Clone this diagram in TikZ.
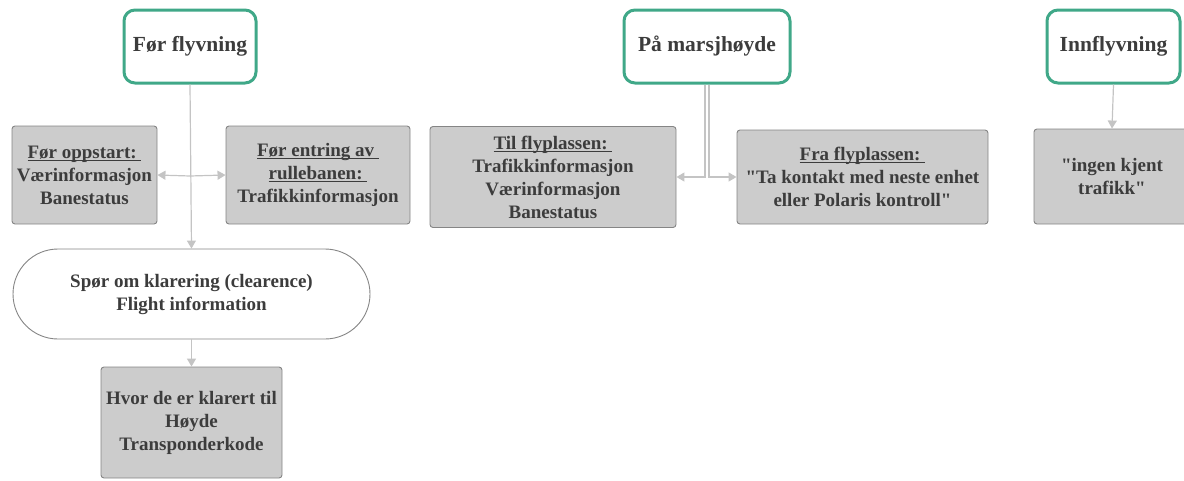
\documentclass[tikz,border=0pt]{standalone}
\usepackage{fontspec}
\setmainfont{Liberation Serif}[Ligatures=TeXOff, BoldFont={Liberation Serif Bold}]
\usetikzlibrary{arrows.meta,shapes.misc}
\definecolor{phase}{HTML}{40A888}
\definecolor{txt}{HTML}{3C3C3C}
\definecolor{boxfill}{HTML}{CCCCCC}
\definecolor{boxline}{HTML}{858585}
\definecolor{link}{HTML}{C4C4C4}
% underline sitting just under the baseline
\newcommand\ulx[1]{\setbox0\hbox{#1}\rlap{\rule[-2.4pt]{\wd0}{0.9pt}}\box0}
\tikzset{
  phasebox/.style={draw=phase, line width=3pt, rounded corners=11pt, fill=white,
    text=txt, font=\fontsize{21.5}{26}\selectfont\bfseries, inner sep=0pt},
  infobox/.style={draw=boxline, line width=0.9pt, rounded corners=3pt, fill=boxfill,
    text=txt, font=\fontsize{19}{23}\selectfont\bfseries, align=center, inner sep=0pt},
  pillbox/.style={draw=boxline, line width=0.9pt, rounded rectangle, fill=white,
    text=txt, font=\fontsize{19}{23}\selectfont\bfseries, align=center, inner sep=0pt},
  arr/.style={draw=link, line width=1.2pt, -{Triangle[length=8pt,width=9pt]}}
}
\begin{document}
\begin{tikzpicture}[x=1pt,y=-1pt]
\useasboundingbox (0,0) rectangle (1184,480);

% phase headers
\node[phasebox, minimum width=132pt, minimum height=73pt] (pre) at (190,46.5) {Før flyvning};
\node[phasebox, minimum width=166pt, minimum height=73pt] (cruise) at (707,46.5) {På marsjhøyde};
\node[phasebox, minimum width=133pt, minimum height=73pt] (appr) at (1113.5,46.5) {Innflyvning};

% before flight
\node[infobox, minimum width=145pt, minimum height=98pt] (startup) at (84.5,175)
  {\ulx{Før oppstart:\ }\\Værinformasjon\\Banestatus};
\node[infobox, minimum width=184pt, minimum height=98pt] (runway) at (318,175)
  {\ulx{Før entring av\ }\\\ulx{rullebanen:\ }\\Trafikkinformasjon};
\node[pillbox, minimum width=357pt, minimum height=90pt] (clear) at (191.5,294)
  {Spør om klarering (clearence)\\Flight information};
\node[infobox, minimum width=181pt, minimum height=111pt] (cleared) at (191.5,422.5)
  {Hvor de er klarert til\\Høyde\\Transponderkode};

% cruise
\node[infobox, minimum width=246pt, minimum height=101pt] (toapt) at (553,177)
  {\ulx{Til flyplassen:\ }\\Trafikkinformasjon\\Værinformasjon\\Banestatus};
\node[infobox, minimum width=251pt, minimum height=94pt] (fromapt) at (862.5,177)
  {\ulx{Fra flyplassen:\ }\\"Ta kontakt med neste enhet\\eller Polaris kontroll"};

% approach
\node[infobox, minimum width=156pt, minimum height=95pt] (traffic) at (1112,176.5)
  {"ingen kjent\\trafikk"};

% connectors
\coordinate (fork) at (190,176);
\draw[arr] (pre.south) -- (clear.north);
\draw[arr] (fork) -- (startup.east);
\draw[arr] (fork) -- (runway.west);
\draw[arr] (clear.south) -- (cleared.north);
\draw[arr] ([xshift=-2pt]cruise.south) |- (toapt.east);
\draw[arr] ([xshift=2pt]cruise.south) |- (fromapt.west);
\draw[arr] (appr.south) -- (traffic.north);
\end{tikzpicture}
\end{document}
